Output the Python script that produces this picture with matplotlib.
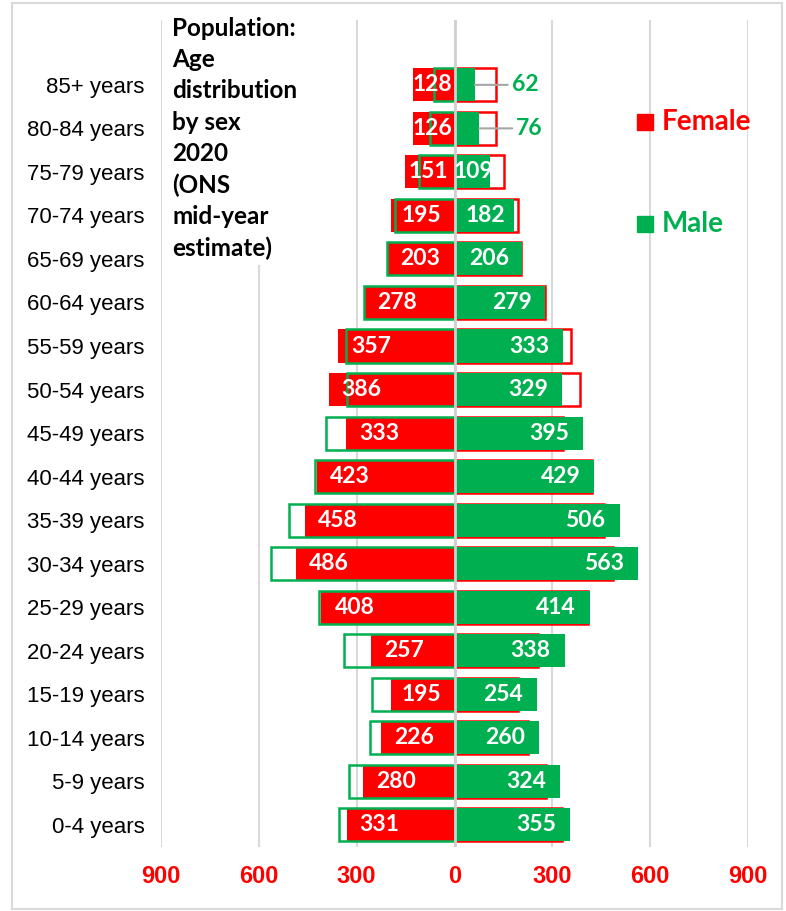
import matplotlib
matplotlib.use('Agg')
import matplotlib.pyplot as plt
from matplotlib.patches import Rectangle

# age bands, bottom to top
ages = ['0-4 years', '5-9 years', '10-14 years', '15-19 years', '20-24 years',
        '25-29 years', '30-34 years', '35-39 years', '40-44 years', '45-49 years',
        '50-54 years', '55-59 years', '60-64 years', '65-69 years', '70-74 years',
        '75-79 years', '80-84 years', '85+ years']
female = [331, 280, 226, 195, 257, 408, 486, 458, 423, 333, 386, 357, 278, 203, 195, 151, 126, 128]
male = [355, 324, 260, 254, 338, 414, 563, 506, 429, 395, 329, 333, 279, 206, 182, 109, 76, 62]
xticks = [-900, -600, -300, 0, 300, 600, 900]

RED = '#ff0000'
GREEN = '#00b050'
W, H = 786, 911

fig = plt.figure(figsize=(W / 100, H / 100), dpi=100)
ax = fig.add_axes([161 / W, 1 - 847 / H, 587 / W, 827 / H])

y = list(range(len(ages)))
neg_f = [-v for v in female]
neg_m = [-v for v in male]
bh = 0.76

# red outline (female mirrored) sits under the green bars, green outline over the red ones
ax.barh(y, female, height=bh, facecolor='none', edgecolor=RED, lw=1.8, zorder=2)
ax.barh(y, neg_f, height=bh, color=RED, zorder=3)
ax.barh(y, male, height=bh, color=GREEN, zorder=3)
ax.barh(y, neg_m, height=bh, facecolor='none', edgecolor=GREEN, lw=1.8, zorder=4)
ax.axvline(0, color='#d0d0d0', lw=2, zorder=5)

ax.set_xlim(-900, 900)
ax.set_ylim(-0.51, 18.49)
px_per_unit = 587 / 1800
tw = 42  # approx label width in px

lab_font = dict(family=['Lato', 'DejaVu Sans'], fontweight='bold', fontsize=16.5)
for yi, f, m in zip(y, female, male):
    w = f * px_per_unit
    pad = min(13, (w - tw) / 2)
    ax.annotate(str(f), (-f, yi), xytext=(pad, 0), textcoords='offset pixels',
                ha='left', va='center', color='white', zorder=6, **lab_font)
    w = m * px_per_unit
    if m < 100:
        ax.annotate(str(m), (m, yi), xytext=(37, 0), textcoords='offset pixels',
                    ha='left', va='center', color=GREEN, zorder=6, **lab_font)
        ax.annotate('', (m, yi), xytext=(m + 33 / px_per_unit, yi),
                    arrowprops=dict(arrowstyle='-', color='#a6a6a6', lw=1.5,
                                    shrinkA=0, shrinkB=0), zorder=6)
    else:
        pad = min(14, (w - tw) / 2)
        ax.annotate(str(m), (m, yi), xytext=(-pad, 0), textcoords='offset pixels',
                    ha='right', va='center', color='white', zorder=6, **lab_font)

ax.set_yticks(y)
ax.set_yticklabels(ages, family='Liberation Sans', fontsize=16, color='black')
ax.set_xticks(xticks)
ax.set_xticklabels([str(abs(v)) for v in xticks], family='Liberation Sans',
                   fontweight='bold', fontsize=17, color=RED)
ax.tick_params(axis='y', length=0, pad=12)
ax.tick_params(axis='x', length=0, pad=13)
ax.grid(axis='x', color='#d9d9d9', lw=1.5, zorder=0)
ax.set_axisbelow(True)
for s in ax.spines.values():
    s.set_visible(False)

fig.text(172 / W, 1 - 17 / H,
         'Population:\nAge\ndistribution\nby sex\n2020\n(ONS\nmid-year\nestimate)',
         family=['Lato', 'DejaVu Sans'], fontweight='bold', fontsize=17.5,
         linespacing=1.43, ha='left', va='top', color='black', zorder=10,
         bbox=dict(facecolor='white', edgecolor='none', pad=4))

# legend
for ty, lab, col in [(122, 'Female', RED), (224, 'Male', GREEN)]:
    fig.add_artist(Rectangle((637 / W, 1 - (ty + 8) / H), 16 / W, 16 / H,
                             transform=fig.transFigure, color=col))
    fig.text(662 / W, 1 - ty / H, lab, family=['Lato', 'DejaVu Sans'],
             fontweight='bold', fontsize=20, color=col, ha='left', va='center')

# chart frame
fig.add_artist(Rectangle((12 / W, 1 - 909 / H), 770 / W, 906 / H,
                         transform=fig.transFigure, fill=False,
                         edgecolor='#d9d9d9', lw=1.5))

fig.savefig('out.png', dpi=100)
